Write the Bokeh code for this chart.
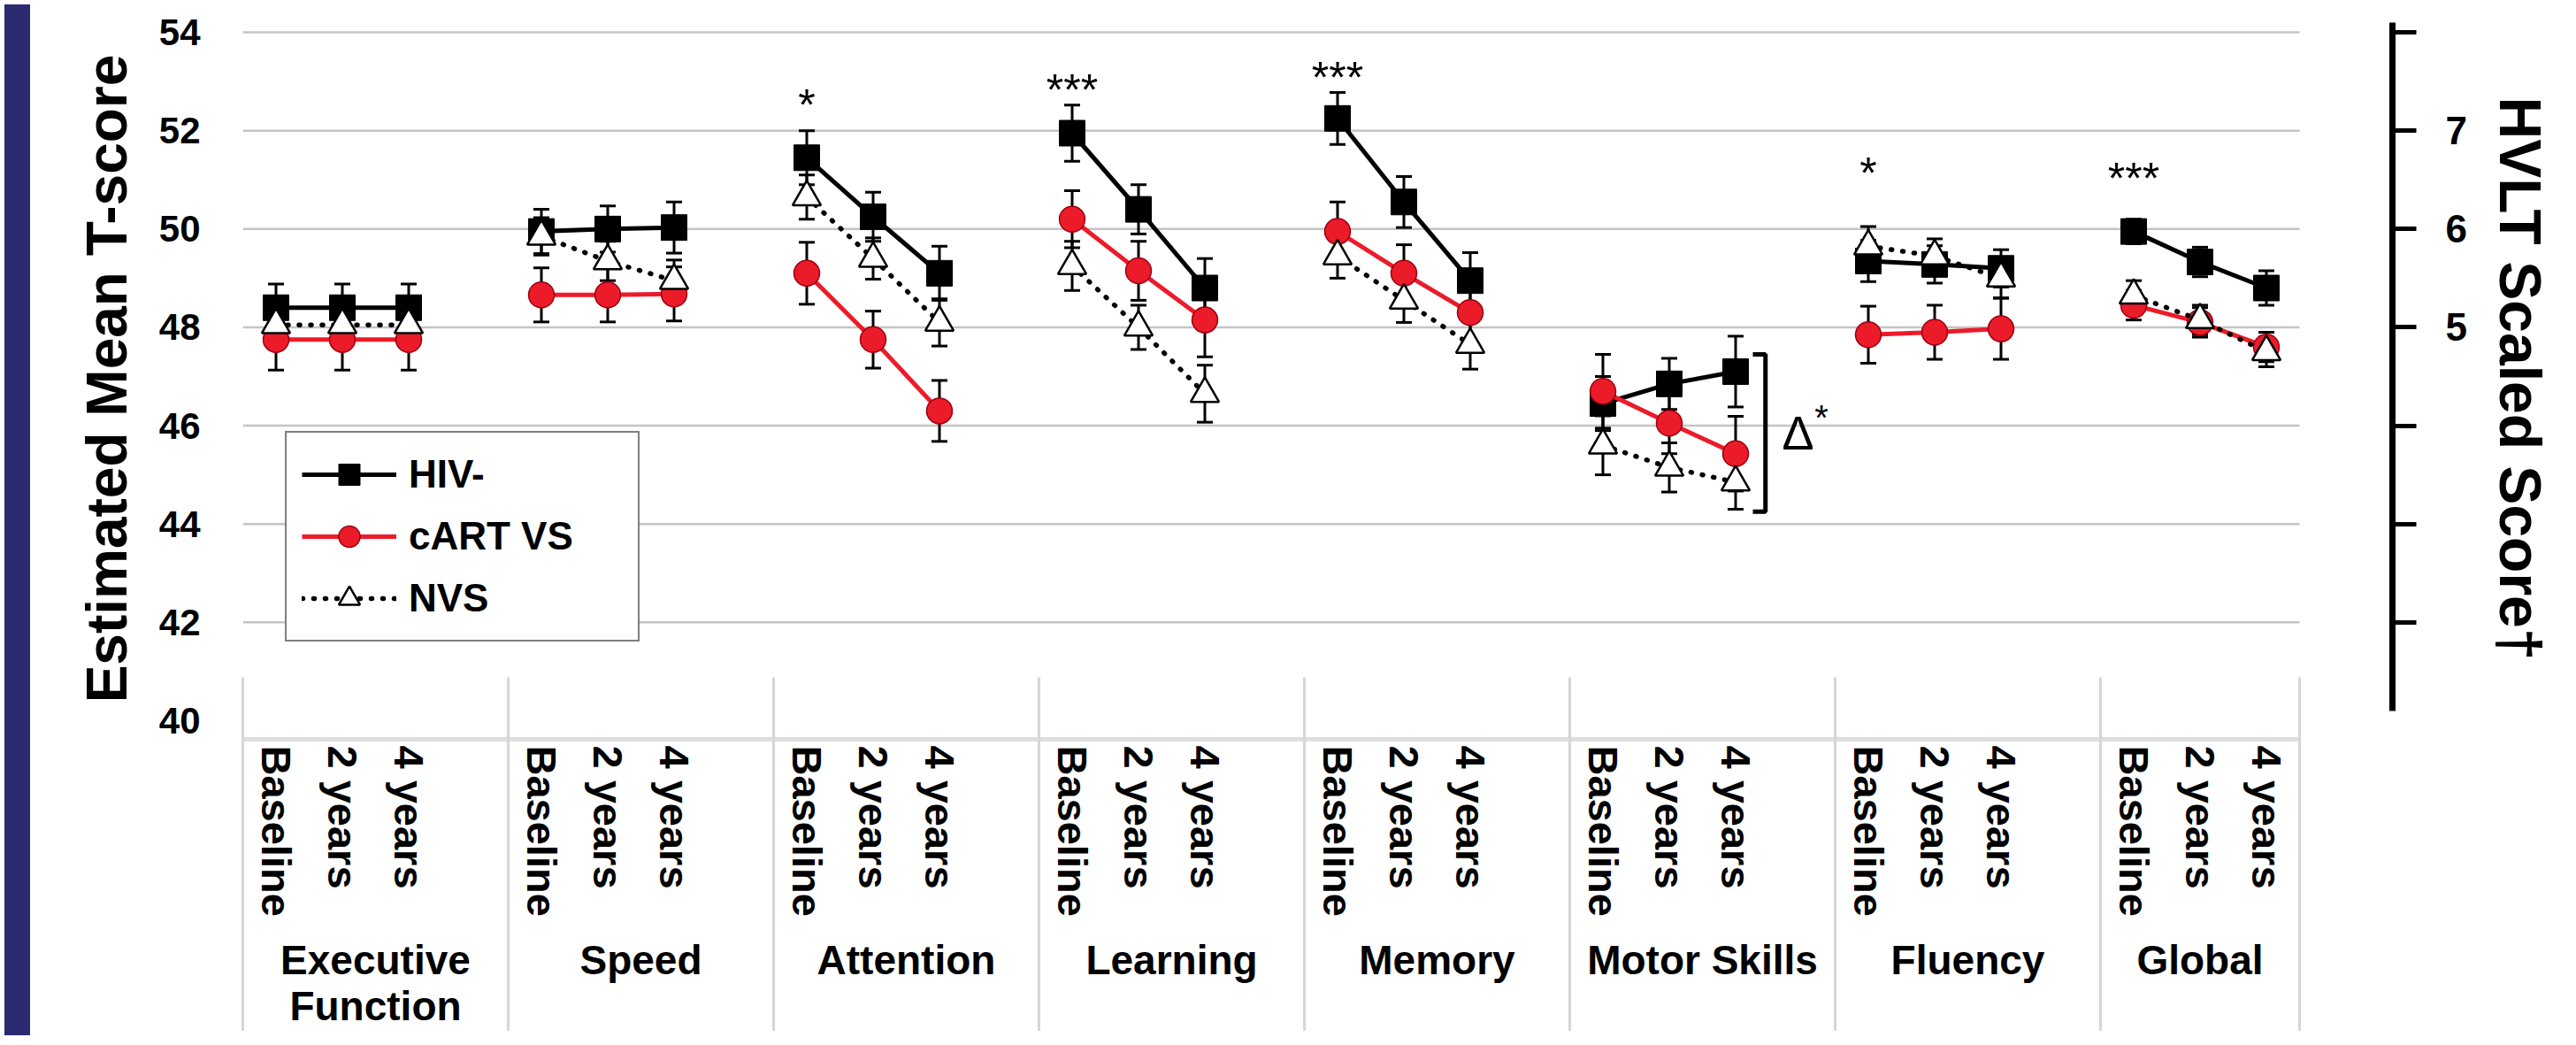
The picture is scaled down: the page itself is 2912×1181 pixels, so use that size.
import math
from bokeh.plotting import figure
from bokeh.models import (ColumnDataSource, Range1d, LinearAxis, FixedTicker,
                          CustomJSTickFormatter, Whisker, TeeHead, Legend,
                          LegendItem, Div)
from bokeh.layouts import row
from bokeh.core.properties import value
from bokeh.embed import file_html
from bokeh.resources import INLINE

# ---------------- data ----------------
domains = ["Executive\nFunction", "Speed", "Attention", "Learning",
           "Memory", "Motor Skills", "Fluency", "Global"]
timepoints = ["Baseline", "2 years", "4 years"]

hiv_neg = [48.40, 48.40, 48.40, 49.95, 50.00, 50.03, 51.45, 50.25, 49.10,
           51.95, 50.40, 48.80, 52.25, 50.55, 48.95, 46.45, 46.85, 47.10,
           49.35, 49.28, 49.20, 49.95, 49.33, 48.80]
hiv_neg_se = [0.48, 0.48, 0.48, 0.45, 0.47, 0.52, 0.55, 0.50, 0.55,
              0.57, 0.50, 0.60, 0.53, 0.52, 0.57, 0.55, 0.52, 0.72,
              0.42, 0.38, 0.38, 0.25, 0.30, 0.35]
cart_vs = [47.75, 47.75, 47.75, 48.66, 48.66, 48.68, 49.10, 47.75, 46.30,
           50.20, 49.15, 48.15, 49.95, 49.10, 48.30, 46.70, 46.05, 45.43,
           47.85, 47.90, 47.97, 48.45, 48.10, 47.60]
cart_vs_se = [0.62, 0.62, 0.62, 0.55, 0.55, 0.55, 0.63, 0.58, 0.62,
              0.58, 0.60, 0.75, 0.60, 0.58, 0.62, 0.75, 0.62, 0.76,
              0.58, 0.55, 0.62, 0.30, 0.30, 0.30]
nvs = [48.05, 48.05, 48.05, 49.85, 49.35, 48.95, 50.65, 49.40, 48.10,
       49.25, 48.00, 46.65, 49.45, 48.55, 47.65, 45.60, 45.15, 44.85,
       49.65, 49.45, 49.00, 48.65, 48.15, 47.50]
nvs_se = [0.35, 0.35, 0.35, 0.38, 0.40, 0.42, 0.45, 0.42, 0.48,
          0.50, 0.45, 0.58, 0.45, 0.45, 0.50, 0.60, 0.50, 0.55,
          0.40, 0.35, 0.40, 0.30, 0.30, 0.30]

sig_marks = ["", "", "*", "***", "***", "", "*", "***"]
sig_y = [0, 0, 52.77, 53.08, 53.33, 0, 51.39, 51.28]
delta_bracket = [44.25, 47.45]

t_ticks = [40, 42, 44, 46, 48, 50, 52, 54]
hvlt_labels = [5, 6, 7]
hvlt_minor = [2, 3, 4, 8]

# ---------------- layout helpers ----------------
FONT = "Liberation Sans"
SLOTS = 4                      # 3 time points + 1 empty slot per domain
n_g = len(domains)
xs = [SLOTS * g + t + 0.5 for g in range(n_g) for t in range(3)]
x_end = xs[-1] + 0.5
bounds_x = [SLOTS * g for g in range(n_g)] + [x_end]
centers = [(bounds_x[i] + bounds_x[i + 1]) / 2 for i in range(n_g)]

Y0, Y1 = 39.62, 54.29
p = figure(width=2867, height=1165, x_range=Range1d(0, 32.4),
           y_range=Range1d(Y0, Y1), output_backend="svg",
           toolbar_location=None, x_axis_type=None,
           min_border_left=235, min_border_right=202,
           min_border_top=20, min_border_bottom=330)
p.outline_line_color = None
p.ygrid.visible = False
p.background_fill_color = "white"
p.border_fill_color = "white"

# left axis
ya = p.left[0]
ya.ticker = FixedTicker(ticks=t_ticks)
ya.axis_line_color = None
ya.major_tick_line_color = None
ya.minor_tick_line_color = None
ya.major_tick_out = 0
ya.major_tick_in = 0
ya.major_label_standoff = 48
ya.major_label_text_font = FONT
ya.major_label_text_font_style = "bold"
ya.major_label_text_font_size = "42px"
ya.major_label_text_color = "black"
ya.axis_label = "Estimated Mean T-score"
ya.axis_label_standoff = 20
ya.axis_label_text_font = FONT
ya.axis_label_text_font_style = "bold"
ya.axis_label_text_font_size = "64px"
ya.axis_label_text_color = "black"

# right axis (HVLT scaled score)
p.extra_y_ranges = {"hvlt": Range1d(5 + (Y0 - 48) / 2, 5 + (Y1 - 48) / 2)}
ra = LinearAxis(y_range_name="hvlt",
                ticker=FixedTicker(ticks=hvlt_labels, minor_ticks=hvlt_minor),
                bounds=(1.1, 8.1), axis_line_width=7, axis_line_color="black",
                major_tick_out=27, major_tick_in=0, minor_tick_out=27,
                minor_tick_in=0, major_tick_line_width=5,
                minor_tick_line_width=5, major_label_standoff=33,
                major_label_text_font=FONT, major_label_text_font_style="bold",
                major_label_text_font_size="44px", major_label_text_color="black",
                axis_label="HVLT Scaled Score\u2020", axis_label_standoff=20,
                axis_label_text_font=FONT, axis_label_text_font_style="bold",
                axis_label_text_font_size="66px", axis_label_text_color="black")
p.add_layout(ra, "right")

# bottom axis 1: time points
ax1 = LinearAxis(ticker=FixedTicker(ticks=xs),
                 formatter=CustomJSTickFormatter(args=dict(labels=timepoints),
                                                 code="return labels[index % 3];"),
                 major_label_orientation="vertical", major_tick_out=0,
                 major_tick_in=0, minor_tick_line_color=None,
                 major_label_standoff=7, axis_line_color="#dedede",
                 axis_line_width=5, bounds=(0, x_end),
                 major_label_text_font=FONT, major_label_text_font_style="bold",
                 major_label_text_font_size="47px", major_label_text_color="black")
p.add_layout(ax1, "below")

# bottom axis 2: domains
ax2 = LinearAxis(ticker=FixedTicker(ticks=centers),
                 formatter=CustomJSTickFormatter(args=dict(labels=domains),
                                                 code="return labels[index];"),
                 major_tick_out=0, major_tick_in=0, major_tick_line_color=None,
                 minor_tick_line_color=None, axis_line_color=None,
                 major_label_standoff=20,
                 major_label_text_font=FONT, major_label_text_font_style="bold",
                 major_label_text_font_size="46px", major_label_text_color="black",
                 major_label_text_line_height=1.0)
p.add_layout(ax2, "below")

# bottom axis 3: box separators drawn upward as minor ticks
ax3 = LinearAxis(ticker=FixedTicker(ticks=[], minor_ticks=bounds_x),
                 major_tick_out=0, major_tick_in=0, major_tick_line_color=None,
                 minor_tick_out=0, minor_tick_in=400,
                 minor_tick_line_color="#d6d6d6", minor_tick_line_width=3,
                 axis_line_color=None, major_label_standoff=0,
                 major_label_text_font_size="1px")
p.add_layout(ax3, "below")

# gridlines limited to the category extent
p.segment(x0=0, x1=x_end, y0=t_ticks[1:], y1=t_ticks[1:],
          line_color="#c4c4c4", line_width=2.5, level="underlay")

# error bars
for vals, se in [(hiv_neg, hiv_neg_se), (cart_vs, cart_vs_se), (nvs, nvs_se)]:
    src = ColumnDataSource(dict(x=xs, lo=[v - s for v, s in zip(vals, se)],
                                hi=[v + s for v, s in zip(vals, se)]))
    w = Whisker(source=src, base="x", lower="lo", upper="hi",
                line_color="black", line_width=3, level="underlay",
                upper_head=TeeHead(size=18, line_width=3, line_color="black"),
                lower_head=TeeHead(size=18, line_width=3, line_color="black"))
    p.add_layout(w)


def seg(vals):
    return ([xs[3 * g:3 * g + 3] for g in range(n_g)],
            [vals[3 * g:3 * g + 3] for g in range(n_g)])


RED = "#ec1b2a"
lx, ly = seg(hiv_neg)
hiv_line = p.multi_line(lx, ly, line_color="black", line_width=5)
hiv_pts = p.scatter(xs, hiv_neg, marker="square", size=29,
                    fill_color="black", line_color="black")
lx, ly = seg(cart_vs)
cart_line = p.multi_line(lx, ly, line_color=RED, line_width=5)
cart_pts = p.scatter(xs, cart_vs, marker="circle", size=29,
                     fill_color=RED, line_color="#9a0010", line_width=1.5)
lx, ly = seg(nvs)
nvs_line = p.multi_line(lx, ly, line_color="black", line_width=5.5,
                        line_dash="1 12", line_cap="round")
nvs_pts = p.scatter(xs, nvs, marker="triangle", size=32,
                    fill_color="white", line_color="black", line_width=2.5)

# significance marks
sx = [xs[3 * g] for g in range(n_g) if sig_marks[g]]
sy = [sig_y[g] for g in range(n_g) if sig_marks[g]]
st = [sig_marks[g] for g in range(n_g) if sig_marks[g]]
p.text(x=sx, y=sy, text=st, text_align="center", text_baseline="middle",
       text_font=value(FONT), text_font_size="50px", text_color="black",
       y_offset=14)

# delta bracket at Motor Skills
mi = 3 * domains.index("Motor Skills") + 2
bx = xs[mi] + 0.45
arm = 0.19
p.line([bx - arm, bx, bx, bx - arm],
       [delta_bracket[0], delta_bracket[0], delta_bracket[1], delta_bracket[1]],
       line_color="black", line_width=5)
p.text(x=[bx + 0.25], y=[sum(delta_bracket) / 2], text=["\u0394"],
       text_align="left", text_baseline="middle", text_font=value(FONT),
       text_font_size="54px", text_color="black")
p.text(x=[bx + 0.74], y=[sum(delta_bracket) / 2 + 0.5], text=["*"],
       text_align="left", text_baseline="middle", text_font=value(FONT),
       text_font_size="40px", text_color="black", y_offset=10)

# legend
legend = Legend(items=[LegendItem(label="HIV-", renderers=[hiv_line, hiv_pts]),
                       LegendItem(label="cART VS", renderers=[cart_line, cart_pts]),
                       LegendItem(label="NVS", renderers=[nvs_line, nvs_pts])],
                location=(48, 110), border_line_color="black",
                border_line_width=2.5, background_fill_color="white",
                background_fill_alpha=1.0, glyph_width=107, glyph_height=60,
                label_height=60, spacing=10, padding=17, margin=0,
                label_standoff=14, label_width=242,
                label_text_font=FONT, label_text_font_style="bold",
                label_text_font_size="44px", label_text_color="black")
p.add_layout(legend)

bar = Div(width=29, height=1165, styles={"background-color": "#2b2970"})
layout = row(bar, p)

open("out.html", "w").write(file_html(layout, INLINE))
